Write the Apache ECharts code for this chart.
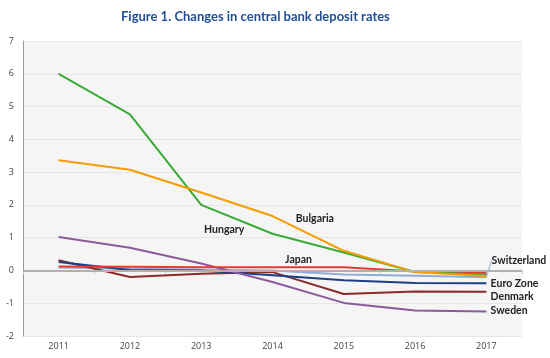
<!DOCTYPE html>
<html><head><meta charset="utf-8">
<script src="https://cdn.jsdelivr.net/npm/echarts@6/dist/echarts.min.js"></script>
<style>html,body{margin:0;padding:0;background:#fff}#c{width:550px;height:358px}</style>
</head><body><div id="c"></div>
<script>
const years = ['2011','2012','2013','2014','2015','2016','2017'];
const yTicks = [-2,-1,0,1,2,3,4,5,6,7];
const hungary     = [6.0, 4.76, 2.0, 1.12, 0.55, -0.05, -0.12];
const bulgaria    = [3.36, 3.07, 2.38, 1.66, 0.6, -0.05, -0.17];
const sweden      = [1.02, 0.69, 0.21, -0.35, -0.99, -1.22, -1.25];
const denmark     = [0.31, -0.2, -0.1, -0.05, -0.72, -0.64, -0.65];
const euroZone    = [0.26, 0.01, 0.0, -0.15, -0.3, -0.38, -0.39];
const japan       = [0.12, 0.11, 0.1, 0.1, 0.1, -0.03, -0.08];
const switzerland = [0.09, 0.05, 0.02, 0.0, -0.12, -0.16, -0.21];

const labelFont = {fontFamily:'Lato', fontWeight:'bold', fontSize:10.5, color:'#222'};

function withLabel(arr, idx, lab, extra) {
  return arr.map((v,i)=> i===idx ? Object.assign({value:v, label:Object.assign({show:true}, labelFont, lab)}, extra||{}) : v);
}
function mk(name, color, data, z) {
  return {name, type:'line', data, symbol:'circle', symbolSize:0.5, showSymbol:true, z: z||2,
    lineStyle:{color, width:2}, itemStyle:{color}, emphasis:{disabled:true}};
}
const series = [
  mk('Switzerland', '#93acd6', withLabel(switzerland, 6, {position:'right', distance:4, formatter:'Switzerland'},
     {labelLine:{show:true, lineStyle:{color:'#93acd6', width:1}}})),
  mk('Denmark', '#8b2b2b', withLabel(denmark, 6, {position:'right', distance:4, formatter:'Denmark'})),
  mk('Euro Zone', '#1c3f85', withLabel(euroZone, 6, {position:'right', distance:4, formatter:'Euro Zone'})),
  mk('Sweden', '#8a5a9c', withLabel(sweden, 6, {position:'right', distance:4, formatter:'Sweden'})),
  mk('Japan', '#e8392f', withLabel(japan, 3, {position:'top', formatter:'Japan'})),
  mk('Hungary', '#3aaa35', withLabel(hungary, 3, {position:'left', formatter:'Hungary'})),
  mk('Bulgaria', '#f59c00', withLabel(bulgaria, 3, {position:'right', formatter:'Bulgaria'}))
];
series.push({type:'line', data:years.map(()=>0), symbol:'none', silent:true, z:1,
  lineStyle:{width:0}, markLine:{silent:true, symbol:'none', label:{show:false},
  lineStyle:{color:'#b0b0b0', width:2, type:'solid'}, data:[{yAxis:0}]}});

// label nudges (pixels) per series index
const nudges = {0:[1,-17], 1:[0,5], 2:[0,0], 3:[0,-1], 4:[26,3], 5:[-23,-4], 6:[18,3]};

const chart = echarts.init(document.getElementById('c'), null, {renderer:'canvas'});
chart.setOption({
  animation:false,
  backgroundColor:'#fff',
  title:{text:'Figure 1. Changes in central bank deposit rates', left:116, top:5,
    textStyle:{fontFamily:'Lato', fontWeight:'bold', fontSize:13, color:'#1f4e99'}},
  grid:{left:23, top:41, width:499, height:295, show:true, backgroundColor:'#f5f5f5', borderWidth:0},
  xAxis:{type:'category', data:years, boundaryGap:true,
    axisLine:{show:false}, axisTick:{show:true, length:4, lineStyle:{color:'#c8c8c8'}},
    axisLabel:{fontFamily:'Open Sans', fontSize:9, color:'#444', margin:6}},
  yAxis:{type:'value', min:yTicks[0], max:yTicks[yTicks.length-1], interval:1,
    axisLine:{show:true, lineStyle:{color:'#999', width:1}}, axisTick:{show:false},
    splitLine:{lineStyle:{color:'#e6e6e6', width:1}},
    axisLabel:{fontFamily:'Open Sans', fontSize:9, color:'#444', margin:9}},
  labelLayout: function(p){
    const n = nudges[p.seriesIndex];
    if (!n) return null;
    return {dx:n[0], dy:n[1]};
  },
  series
});
</script></body></html>
